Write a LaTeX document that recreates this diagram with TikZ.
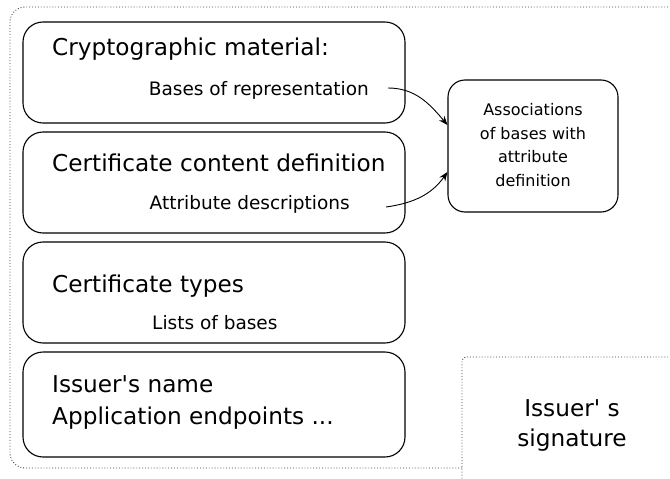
\documentclass[tikz,border=0pt]{standalone}
\usepackage{fontspec}
\setmainfont{DejaVu Sans}[Ligatures=TeXOff]
\usetikzlibrary{arrows.meta}
\tikzset{
  box/.style={draw=black, line width=1.1pt, rounded corners=20pt, inner sep=0pt, fill=none},
  bigtxt/.style={font=\fontsize{23.2}{28}\selectfont, inner sep=0pt, anchor=base west},
  smalltxt/.style={font=\fontsize{18.5}{22}\selectfont, inner sep=0pt, anchor=base west},
  assoctxt/.style={font=\fontsize{16}{19}\selectfont, inner sep=0pt, anchor=base},
  sigtxt/.style={font=\fontsize{23.2}{28}\selectfont, inner sep=0pt, anchor=base},
  dotline/.style={draw=black!75, dotted, line width=0.9pt},
  conn/.style={-{Stealth[length=9pt,width=7pt,inset=3pt]}, line width=0.9pt}
}
\begin{document}
\begin{tikzpicture}[x=1pt,y=-1pt]
\useasboundingbox (0,0) rectangle (670,479);
% outer dotted frame (partly cut off at the right)
\begin{scope}
\clip (0,0) rectangle (670,479);
\draw[dotline, rounded corners=15pt] (462,468) -- (10,468) -- (10,7) -- (683,7) -- (683,60);
\draw[dotline, rounded corners=4pt] (462,490) -- (462,357) -- (690,357);
\end{scope}
% boxes
\node[box, minimum width=382pt, minimum height=101pt] (b1) at (214,72.5) {};
\node[box, minimum width=382pt, minimum height=101pt] (b2) at (214,182.5) {};
\node[box, minimum width=382pt, minimum height=101pt] (b3) at (214,292.5) {};
\node[box, minimum width=382pt, minimum height=105pt] (b4) at (214,404.5) {};
\node[box, rounded corners=17pt, minimum width=170pt, minimum height=132pt] (assoc) at (533,146) {};
% texts
\node[bigtxt] (t1) at (52,56) {Cryptographic material:};
\node[smalltxt, anchor=base east] (s1) at (369,95) {Bases of representation};
\node[bigtxt] (t2) at (52,171) {Certificate content definition};
\node[smalltxt, anchor=base east] (s2) at (350,209) {Attribute descriptions};
\node[bigtxt] (t3) at (52,292) {Certificate types};
\node[smalltxt] (s3) at (152,329) {Lists of bases};
\node[bigtxt] (t4a) at (52,392) {Issuer's name};
\node[bigtxt] (t4b) at (52,424) {Application endpoints ...};
\node[assoctxt] (a1) at (533,115.5) {Associations};
\node[assoctxt] (a2) at (533,139) {of bases with};
\node[assoctxt] (a3) at (533,162.5) {attribute};
\node[assoctxt] (a4) at (533,186) {definition};
\node[sigtxt] (sig1) at (572,416) {Issuer' s};
\node[sigtxt] (sig2) at (572,446) {signature};
% connectors
\coordinate (e1) at (388,88);
\coordinate (e2) at (386,207);
\draw[conn] (e1) to[out=0, in=130] ([yshift=21pt]assoc.west);
\draw[conn] (e2) to[out=8, in=-125] ([yshift=-26pt]assoc.west);
\end{tikzpicture}
\end{document}
